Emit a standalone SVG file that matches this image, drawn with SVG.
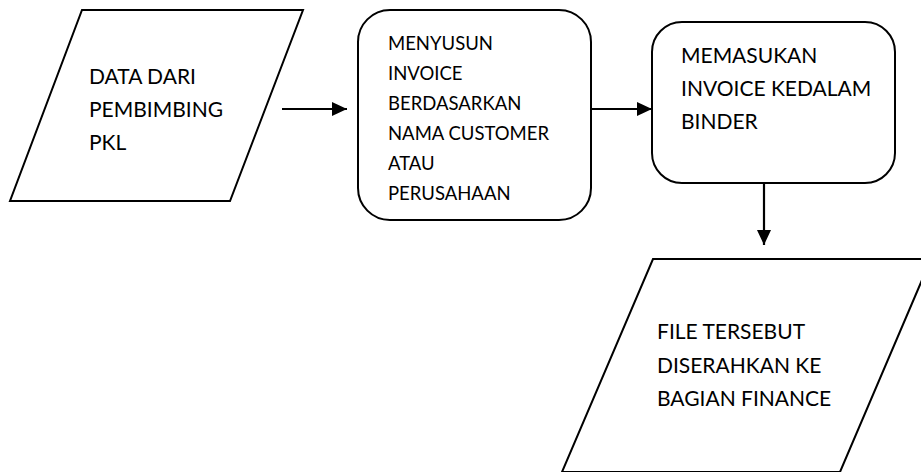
<svg xmlns="http://www.w3.org/2000/svg" width="921" height="472" viewBox="0 0 921 472">
<style>
.shape{fill:#fff;stroke:#000;stroke-width:2;stroke-linejoin:miter}
.conn{stroke:#000;stroke-width:2.2;fill:none}
.t{font-family:Lato,"Liberation Sans",sans-serif;font-size:21px;fill:#000}
.s{font-size:18.5px}
</style>
<defs>
<marker id="ah" viewBox="0 0 15 14" refX="15" refY="7" markerWidth="15" markerHeight="14" markerUnits="userSpaceOnUse" orient="auto">
<path d="M0,0 L15,7 L0,14 z" fill="#000"/>
</marker>
</defs>
<rect width="921" height="472" fill="#fff"/>
<g id="node-data">
<polygon class="shape" points="82,10 303,10 230,201 10,201"/>
<text class="t" x="89" y="84">DATA DARI</text>
<text class="t" x="89" y="117">PEMBIMBING</text>
<text class="t" x="89" y="150">PKL</text>
</g>
<g id="node-menyusun">
<rect class="shape" x="358" y="10" width="233" height="210" rx="32" ry="32"/>
<text class="t s" x="388" y="50">MENYUSUN</text>
<text class="t s" x="388" y="80">INVOICE</text>
<text class="t s" x="388" y="110">BERDASARKAN</text>
<text class="t s" x="388" y="140">NAMA CUSTOMER</text>
<text class="t s" x="388" y="170">ATAU</text>
<text class="t s" x="388" y="200">PERUSAHAAN</text>
</g>
<g id="node-memasukan">
<rect class="shape" x="652" y="22" width="243" height="161" rx="30" ry="30"/>
<text class="t" x="681" y="63">MEMASUKAN</text>
<text class="t" x="681" y="96">INVOICE KEDALAM</text>
<text class="t" x="681" y="129">BINDER</text>
</g>
<g id="node-file">
<polygon class="shape" points="653,259 931,259 840,472 562,472"/>
<text class="t" x="657" y="339">FILE TERSEBUT</text>
<text class="t" x="657" y="373">DISERAHKAN KE</text>
<text class="t" x="657" y="406">BAGIAN FINANCE</text>
</g>
<g id="connectors">
<line class="conn" x1="282" y1="109" x2="347" y2="109" marker-end="url(#ah)"/>
<line class="conn" x1="591" y1="109" x2="652" y2="109" marker-end="url(#ah)"/>
<line class="conn" x1="764" y1="183" x2="764" y2="245" marker-end="url(#ah)"/>
</g>
</svg>
